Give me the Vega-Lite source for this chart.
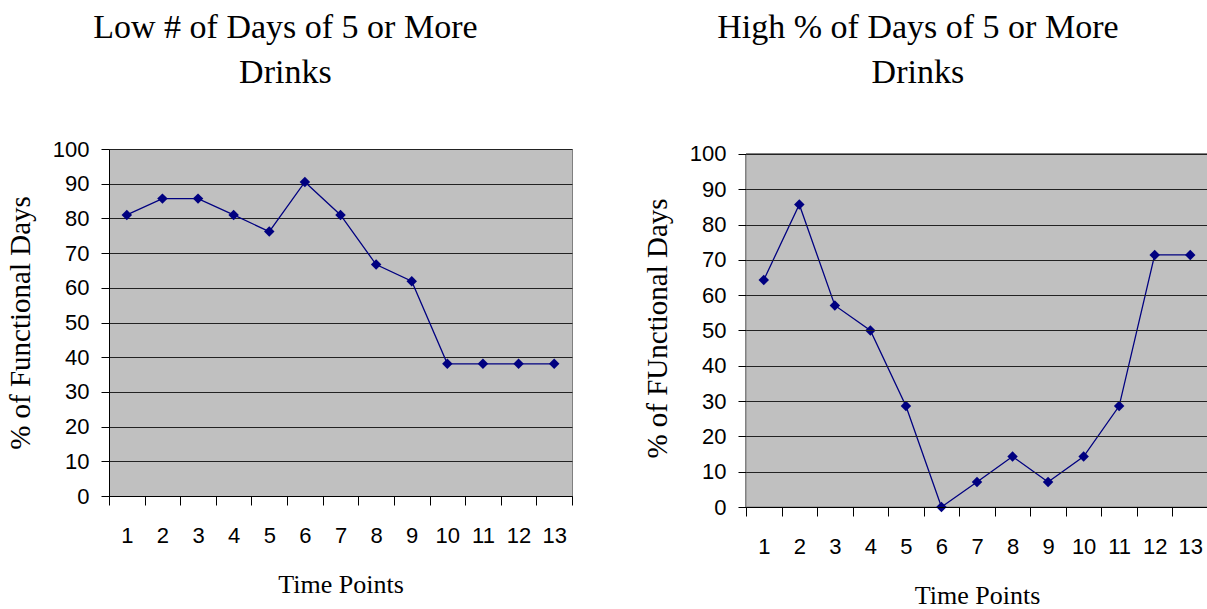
{
  "$schema": "https://vega.github.io/schema/vega-lite/v6.json",
  "padding": {"left": 5, "top": 10, "right": 0, "bottom": 0},
  "background": "white",
  "datasets": {
    "low": [
      {"t": 1, "v": 81.0}, {"t": 2, "v": 85.7}, {"t": 3, "v": 85.7}, {"t": 4, "v": 81.0},
      {"t": 5, "v": 76.2}, {"t": 6, "v": 90.5}, {"t": 7, "v": 81.0}, {"t": 8, "v": 66.7},
      {"t": 9, "v": 61.9}, {"t": 10, "v": 38.1}, {"t": 11, "v": 38.1}, {"t": 12, "v": 38.1},
      {"t": 13, "v": 38.1}
    ],
    "high": [
      {"t": 1, "v": 64.3}, {"t": 2, "v": 85.7}, {"t": 3, "v": 57.1}, {"t": 4, "v": 50.0},
      {"t": 5, "v": 28.6}, {"t": 6, "v": 0.0}, {"t": 7, "v": 7.1}, {"t": 8, "v": 14.3},
      {"t": 9, "v": 7.1}, {"t": 10, "v": 14.3}, {"t": 11, "v": 28.6}, {"t": 12, "v": 71.4},
      {"t": 13, "v": 71.4}
    ]
  },
  "spacing": 70,
  "hconcat": [
    {
      "width": 463,
      "height": 347,
      "data": {"name": "low"},
      "title": {"text": ["Low # of Days of 5 or More", "Drinks"], "offset": 48, "dx": -4},
      "encoding": {
        "x": {"field": "t", "type": "ordinal", "bandPosition": 0.5,
              "scale": {"type": "band", "paddingInner": 0, "paddingOuter": 0},
              "axis": {"title": "Time Points"}},
        "y": {"field": "v", "type": "quantitative", "scale": {"domain": [0, 100]},
              "axis": {"title": "% of Functional Days", "values": [0,10,20,30,40,50,60,70,80,90,100]}}
      },
      "layer": [
        {"mark": {"type": "line", "color": "#000080", "strokeWidth": 1.3}},
        {"mark": {"type": "point", "shape": "diamond", "filled": true, "color": "#000080", "size": 110, "opacity": 1}}
      ]
    },
    {
      "width": 462,
      "height": 358,
      "data": {"name": "high"},
      "view": {"fill": null, "stroke": null},
      "title": {"text": ["High % of Days of 5 or More", "Drinks"], "offset": 53, "dx": -8},
      "encoding": {
        "x": {"field": "t", "type": "ordinal", "bandPosition": 0.5,
              "scale": {"type": "band", "paddingInner": 0, "paddingOuter": 0},
              "axis": {"title": "Time Points", "zindex": 1}},
        "y": {"field": "v", "type": "quantitative", "scale": {"domain": [0, 101.416], "nice": false},
              "axis": {"title": "% of FUnctional Days", "values": [0,10,20,30,40,50,60,70,80,90,100], "zindex": 1, "domain": false}}
      },
      "layer": [
        {"mark": {"type": "rect", "fill": "#C0C0C0", "stroke": "#808080", "strokeWidth": 1},
         "encoding": {"x": null, "y": {"datum": 0, "type": "quantitative"}, "y2": {"datum": 100}}},
        {"mark": {"type": "line", "color": "#000080", "strokeWidth": 1.3}},
        {"mark": {"type": "point", "shape": "diamond", "filled": true, "color": "#000080", "size": 110, "opacity": 1}}
      ]
    }
  ],
  "config": {
    "view": {"fill": "#C0C0C0", "stroke": "#808080", "strokeWidth": 1},
    "title": {"font": "Liberation Serif", "fontSize": 34, "fontWeight": "normal", "color": "black", "lineHeight": 45, "anchor": "middle", "frame": "bounds"},
    "axis": {
      "domainColor": "black", "tickColor": "black", "gridColor": "#222222", "gridOpacity": 1, "gridWidth": 1,
      "labelFont": "Liberation Sans", "labelFontSize": 22, "labelColor": "black",
      "titleFont": "Liberation Serif", "titleFontWeight": "normal", "titleColor": "black"
    },
    "axisX": {"grid": false, "tickBand": "extent", "labelAngle": 0, "tickSize": 9, "labelPadding": 20,
              "titleFontSize": 26, "titlePadding": 25},
    "axisY": {"grid": true, "tickSize": 8, "labelPadding": 12, "titleFontSize": 29, "titlePadding": 17}
  }
}
